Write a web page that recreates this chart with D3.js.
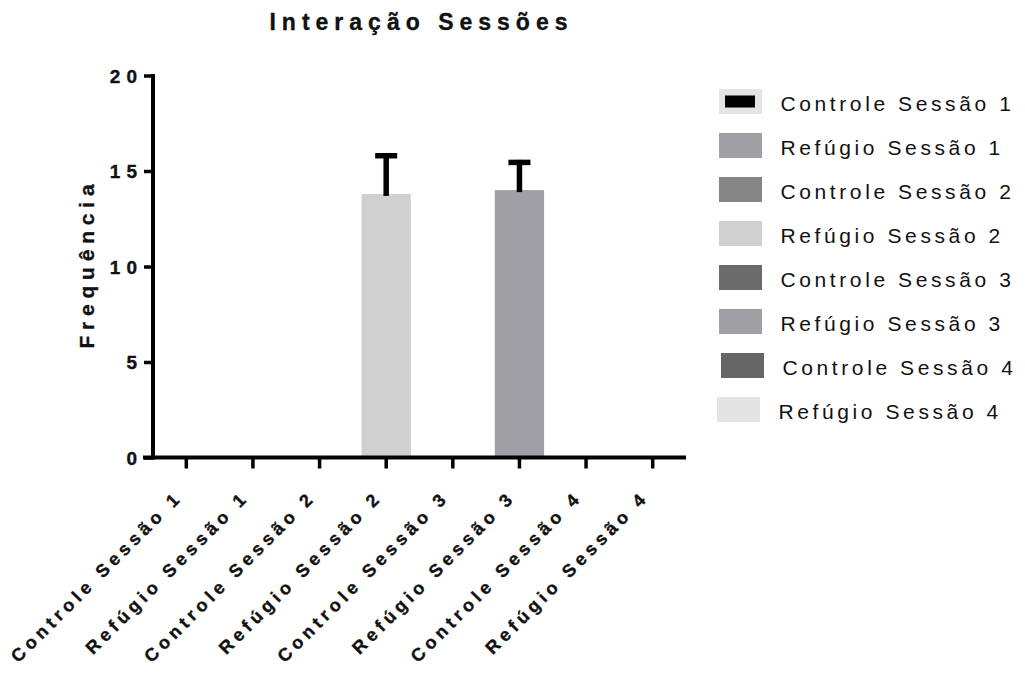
<!DOCTYPE html>
<html>
<head>
<meta charset="utf-8">
<script src="https://cdn.jsdelivr.net/npm/d3@7"></script>
<style>
  html, body { margin: 0; padding: 0; background: #fff; }
  svg { display: block; font-family: "Liberation Sans", Arial, sans-serif; }
  .heavy { stroke: #111; stroke-width: 0.35px; }
</style>
</head>
<body>
<svg id="chart" width="1025" height="679"></svg>
<script>
// Groups, means and SEMs
const categories = [
  "Controle Sessão 1", "Refúgio Sessão 1",
  "Controle Sessão 2", "Refúgio Sessão 2",
  "Controle Sessão 3", "Refúgio Sessão 3",
  "Controle Sessão 4", "Refúgio Sessão 4"
];
const means = [0, 0, 0, 13.8, 0, 14.0, 0, 0];
const sems  = [0, 0, 0, 2.0, 0, 1.45, 0, 0];
const fills = ["#000000", "#a0a0a4", "#858585", "#d0d0d0", "#6b6b6b", "#a0a0a4", "#666666", "#e4e4e4"];
const yTicks = [0, 5, 10, 15, 20];
const title = "Interação Sessões";
const yTitle = "Frequência";

const svg = d3.select("#chart");

const plot = { left: 153, right: 686, top: 75.5, bottom: 457.5 };

const x = d3.scaleBand()
  .domain(categories)
  .range([plot.left, plot.right])
  .paddingInner(0.26)
  .paddingOuter(0.13);

const y = d3.scaleLinear()
  .domain([0, 20])
  .range([plot.bottom, plot.top]);

// Title
const titleSpacing = 6;
svg.append("text")
  .attr("class", "heavy")
  .attr("x", (plot.left + plot.right) / 2 - 1)
  .attr("y", 30)
  .attr("dx", titleSpacing / 2)
  .attr("text-anchor", "middle")
  .style("font-size", "23px")
  .style("font-weight", "bold")
  .style("letter-spacing", titleSpacing + "px")
  .attr("fill", "#111")
  .text(title);

// Bars
const data = categories.map((c, i) => ({ c, m: means[i], s: sems[i], fill: fills[i] }));

svg.append("g").selectAll("rect")
  .data(data.filter(d => d.m > 0))
  .join("rect")
  .attr("x", d => x(d.c))
  .attr("width", x.bandwidth())
  .attr("y", d => y(d.m))
  .attr("height", d => y(0) - y(d.m))
  .attr("fill", d => d.fill);

// Error bars (upper only)
const err = svg.append("g").attr("stroke", "#000").attr("stroke-width", 5.5);
data.filter(d => d.m > 0).forEach(d => {
  const cx = x(d.c) + x.bandwidth() / 2;
  err.append("line")
    .attr("x1", cx).attr("x2", cx)
    .attr("y1", y(d.m) + 2).attr("y2", y(d.m + d.s) - 2.5);
  err.append("line")
    .attr("x1", cx - 11).attr("x2", cx + 11)
    .attr("y1", y(d.m + d.s)).attr("y2", y(d.m + d.s));
});

// Y axis
const ySpacing = 6;
const yAxis = svg.append("g")
  .attr("transform", `translate(${plot.left},0)`)
  .call(d3.axisLeft(y).tickValues(yTicks).tickSize(9).tickPadding(7).tickSizeOuter(0));
yAxis.select(".domain").attr("stroke", "#000").attr("stroke-width", 4)
  .attr("d", `M0,${plot.top - 1.5}V${plot.bottom + 2}`);
yAxis.selectAll(".tick line").attr("stroke", "#000").attr("stroke-width", 3.5);
yAxis.selectAll(".tick text")
  .attr("class", "heavy")
  .attr("fill", "#111")
  .attr("dx", ySpacing)
  .attr("dy", "0.36em")
  .style("font-size", "19px")
  .style("font-weight", "bold")
  .style("font-family", "'Liberation Sans', Arial, sans-serif")
  .style("letter-spacing", ySpacing + "px");

// X axis
const xSpacing = 4.5;
const xAxis = svg.append("g")
  .attr("transform", `translate(0,${plot.bottom})`)
  .call(d3.axisBottom(x).tickSize(11).tickSizeOuter(0));
xAxis.select(".domain").attr("stroke", "#000").attr("stroke-width", 4)
  .attr("d", `M${plot.left - 10},0H${plot.right}`);
xAxis.selectAll(".tick line").attr("stroke", "#000").attr("stroke-width", 3.5);
xAxis.selectAll(".tick text")
  .attr("class", "heavy")
  .attr("fill", "#111")
  .attr("text-anchor", "end")
  .attr("dy", null)
  .attr("y", null)
  .attr("transform", "translate(-6,44) rotate(-45)")
  .attr("dx", xSpacing)
  .style("font-size", "18px")
  .style("font-weight", "bold")
  .style("font-family", "'Liberation Sans', Arial, sans-serif")
  .style("letter-spacing", xSpacing + "px");

// Y axis title
const yTitleSpacing = 5.8;
svg.append("text")
  .attr("class", "heavy")
  .attr("transform", `translate(94,${(plot.top + plot.bottom) / 2}) rotate(-90)`)
  .attr("dx", yTitleSpacing / 2)
  .attr("text-anchor", "middle")
  .style("font-size", "21px")
  .style("font-weight", "bold")
  .style("letter-spacing", yTitleSpacing + "px")
  .attr("fill", "#111")
  .text(yTitle);

// Legend
const legendTop = 101.5, legendStep = 44, swX = 719, swW = 43, swH = 25, textX = 780.5;
const legendNudge = [0, 0, 0, 0, 0, 0, 2, -2];
const legend = svg.append("g");
categories.forEach((c, i) => {
  const cy = legendTop + i * legendStep;
  const g = legend.append("g").attr("transform", `translate(${legendNudge[i]},${cy})`);
  if (i === 0) {
    g.append("rect").attr("x", swX).attr("y", -swH / 2).attr("width", swW).attr("height", swH).attr("fill", "#e4e4e4");
    g.append("rect").attr("x", swX + 6).attr("y", -6).attr("width", 30).attr("height", 12).attr("fill", fills[i]);
  } else {
    g.append("rect").attr("x", swX).attr("y", -swH / 2).attr("width", swW).attr("height", swH).attr("fill", fills[i]);
  }
  g.append("text")
    .attr("x", textX)
    .attr("y", 9.5)
    .style("font-size", "21px")
    .style("letter-spacing", "3.6px")
    .attr("fill", "#111")
    .text(c);
});
</script>
</body>
</html>
